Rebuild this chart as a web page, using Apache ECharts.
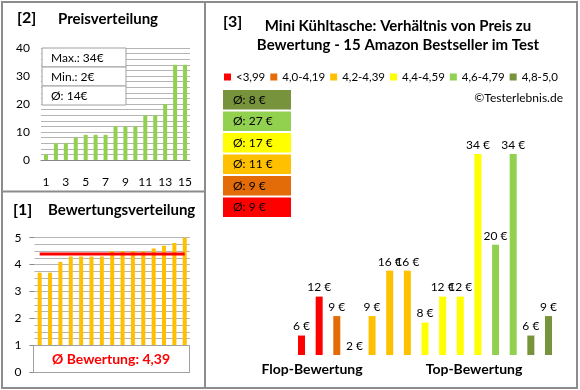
<!DOCTYPE html>
<html><head><meta charset="utf-8">
<script src="https://cdn.jsdelivr.net/npm/echarts@6/dist/echarts.min.js"></script>
<style>html,body{margin:0;padding:0;background:#fff}#c{width:580px;height:390px}</style>
</head><body><div id="c"></div>
<script>
// ---- data ----
const priceCats = ['1','2','3','4','5','6','7','8','9','10','11','12','13','14','15'];
const priceValues = [2,6,6,8,9,9,9,12,12,12,16,16,20,34,34];
const priceStats = ['Max.: 34€','Min.: 2€','Ø: 14€'];
const ratingValues = [3.7,3.7,4.1,4.3,4.3,4.3,4.3,4.5,4.5,4.5,4.5,4.6,4.7,4.8,5.0];
const ratingAvg = 4.39;
const ratingAvgLabel = 'Ø Bewertung: 4,39';
const mainPrices = [6,12,9,2,9,16,16,8,12,12,34,20,34,6,9];
const mainGroup = [0,0,1,2,2,2,2,3,3,3,3,4,4,5,5];
const groupNames = ['<3,99','4,0-4,19','4,2-4,39','4,4-4,59','4,6-4,79','4,8-5,0'];
const groupColors = ['#FF0000','#E36C09','#FFC000','#FFFF00','#92D050','#77933C'];
const groupAvg = [9,9,11,17,27,8];

const FF = 'Lato';
const chart = echarts.init(document.getElementById('c'), null, {renderer:'canvas'});
const gridColor = '#b4b4b4';

const mainSeries = groupNames.map((name, g) => ({
  name, type:'bar', xAxisIndex:2, yAxisIndex:2,
  data: mainPrices.map((v,i) => mainGroup[i] === g ? v : '-'),
  barWidth:7, barGap:'-100%',
  itemStyle:{color:groupColors[g]},
  label:{show:true, position:'top', distance:3, formatter:'{c} €', color:'#000', fontSize:12, fontFamily:FF}
}));

const graphics = [];
// frame
graphics.push({type:'rect', shape:{x:2,y:2,width:575,height:386}, style:{fill:'none', stroke:'#8c8c8c', lineWidth:2}, z:100});
graphics.push({type:'line', shape:{x1:205,y1:2,x2:205,y2:388}, style:{stroke:'#8c8c8c', lineWidth:2}, z:100});
graphics.push({type:'line', shape:{x1:2,y1:191.5,x2:205,y2:191.5}, style:{stroke:'#8c8c8c', lineWidth:2}, z:100});
// titles
const T = (text, x, y, size, weight, align, color) => ({type:'text', x, y, z:50,
  style:{text, fontSize:size, fontWeight:weight, fontFamily:FF, fill:color||'#000', align:align||'left', verticalAlign:'middle'}});
graphics.push(T('[2]',17,18,16,'bold'));
graphics.push(T('Preisverteilung',58,19,15,'bold'));
graphics.push(T('[1]',13,210,16,'bold'));
graphics.push(T('Bewertungsverteilung',48,210,15,'bold'));
graphics.push(T('[3]',223,22,16,'bold'));
graphics.push(T('Mini Kühltasche: Verhältnis von Preis zu',398,26,15,'bold','center'));
graphics.push(T('Bewertung - 15 Amazon Bestseller im Test',398,45,15,'bold','center'));
graphics.push(T('©Testerlebnis.de',563,98,12,'normal','right'));
graphics.push(T('Flop-Bewertung',312,369,14,'bold','center'));
graphics.push(T('Top-Bewertung',474,369,14,'bold','center'));
// price stats box
priceStats.forEach((s,i) => {
  graphics.push({type:'rect', z:20, shape:{x:42,y:48+i*19,width:84,height:19}, style:{fill:'#fff', stroke:'#a0a0a0', lineWidth:1}});
  graphics.push(T(s,51,58+i*19,12,'normal'));
});
// rating avg box
graphics.push({type:'rect', z:20, shape:{x:33.5,y:345.5,width:156,height:27}, style:{fill:'#fff', stroke:'#a0a0a0', lineWidth:1}});
graphics.push(T(ratingAvgLabel,111,359,14,'bold','center','#FF0000'));
// group average boxes (top: best group)
for (let k = 0; k < 6; k++) {
  const g = 5 - k;
  const y = 90 + k*21.5;
  graphics.push({type:'rect', z:20, shape:{x:223,y,width:68,height:19.5}, style:{fill:groupColors[g]}});
  graphics.push(T('Ø: ' + groupAvg[g] + ' €',233,y+10,12,'normal'));
}

chart.setOption({
  animation:false,
  textStyle:{fontFamily:FF},
  grid:[
    {left:41, top:48, width:149, height:112},
    {left:34.5, top:237.7, width:155.4, height:134.6},
    {left:292.7, top:115, width:264.6, height:240}
  ],
  xAxis:[
    {gridIndex:0, type:'category', data:priceCats, axisTick:{show:false},
     axisLine:{lineStyle:{color:'#888'}},
     axisLabel:{interval:1, margin:16, fontSize:12, color:'#000', fontFamily:FF}},
    {gridIndex:1, type:'category', data:priceCats, show:false},
    {gridIndex:2, type:'category', data:priceCats, show:false}
  ],
  yAxis:[
    {gridIndex:0, type:'value', min:0, max:40, interval:10,
     axisLine:{show:false}, axisTick:{show:false},
     axisLabel:{fontSize:12, color:'#000', margin:11, fontFamily:FF},
     splitLine:{lineStyle:{color:gridColor}},
     minorTick:{show:false, splitNumber:5},
     minorSplitLine:{show:true, lineStyle:{color:gridColor}}},
    {gridIndex:1, type:'value', min:0, max:5, interval:1,
     axisLine:{show:false}, axisTick:{show:true, length:5, lineStyle:{color:'#888'}},
     axisLabel:{fontSize:12, color:'#000', margin:13, fontFamily:FF},
     splitLine:{lineStyle:{color:gridColor}},
     minorTick:{show:false, splitNumber:4},
     minorSplitLine:{show:true, lineStyle:{color:gridColor}}},
    {gridIndex:2, type:'value', min:3, max:40, startValue:3, show:false}
  ],
  legend:{data:groupNames, left:224, top:71, width:360, orient:'horizontal', padding:0,
    itemWidth:7, itemHeight:7, itemGap:5, icon:'rect',
    selectedMode:false, textStyle:{fontSize:11.5, color:'#000', fontFamily:FF}},
  series:[
    {type:'bar', xAxisIndex:0, yAxisIndex:0, data:priceValues, barWidth:4, itemStyle:{color:'#92D050'}},
    {type:'bar', xAxisIndex:1, yAxisIndex:1, data:ratingValues, barWidth:4, itemStyle:{color:'#FFC000'}},
    {type:'line', xAxisIndex:1, yAxisIndex:1, data:ratingValues.map(() => ratingAvg), symbol:'none', z:5,
     lineStyle:{color:'#FF0000', width:3}},
    ...mainSeries
  ],
  graphic:graphics
});
</script></body></html>
